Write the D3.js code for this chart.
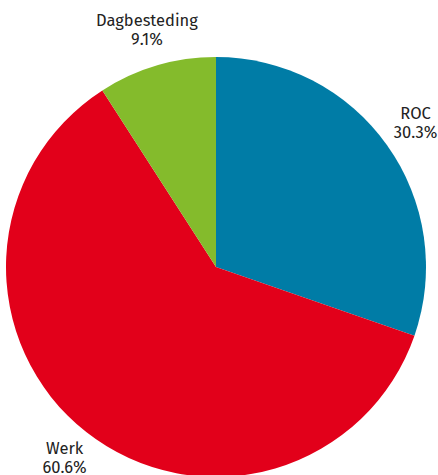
<!DOCTYPE html>
<html><head><meta charset="utf-8">
<script src="https://cdn.jsdelivr.net/npm/d3@7"></script>
<style>html,body{margin:0;padding:0;background:#fff;}svg{display:block;}</style>
</head><body>
<svg id="chart" width="438" height="475"></svg>
<script>
const categories = ["ROC", "Werk", "Dagbesteding"];
const values = [30.3, 60.6, 9.1];
const labels = ["30.3%", "60.6%", "9.1%"];
const colors = ["#007CA6", "#E2001A", "#84BB2C"];

const svg = d3.select("#chart");
const cx = 216, cy = 267, R = 210, rLabel = 245;
const data = categories.map((c, i) => ({cat: c, value: values[i], label: labels[i], color: colors[i]}));
const pie = d3.pie().value(d => d.value).sort(null);
const arc = d3.arc().innerRadius(0).outerRadius(R);
const labelArc = d3.arc().innerRadius(rLabel).outerRadius(rLabel);
const g = svg.append("g").attr("transform", `translate(${cx},${cy})`);
const arcs = pie(data);
g.selectAll("path").data(arcs).join("path")
  .attr("d", arc).attr("fill", d => d.data.color);
const t = g.selectAll("text").data(arcs).join("text")
  .attr("transform", d => `translate(${labelArc.centroid(d)})`)
  .attr("text-anchor", "middle")
  .style("font-family", "'Fira Sans','Open Sans',sans-serif")
  .style("font-size", "16.5px").attr("fill", "#222");
t.append("tspan").attr("x", 0).attr("dy", "-0.35em").text(d => d.data.cat);
t.append("tspan").attr("x", 0).attr("dy", "1.15em").text(d => d.data.label);
</script>
</body></html>
